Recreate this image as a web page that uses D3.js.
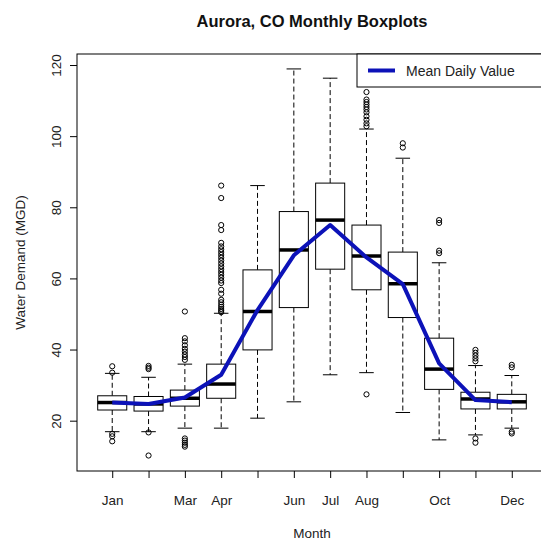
<!DOCTYPE html>
<html>
<head>
<meta charset="utf-8">
<script src="https://cdn.jsdelivr.net/npm/d3@7"></script>
<style>
  html, body { margin: 0; padding: 0; background: #fff; }
  svg { display: block; font-family: "Liberation Sans", Arial, sans-serif; }
</style>
</head>
<body>
<svg id="chart" width="541" height="541"></svg>
<script>
// Monthly daily water demand (MGD), Aurora CO
const months = ["Jan","Feb","Mar","Apr","May","Jun","Jul","Aug","Sep","Oct","Nov","Dec"];
const monthLabels = ["Jan","","Mar","Apr","","Jun","Jul","Aug","","Oct","","Dec"];
const q1        = [23.0, 22.7, 24.1, 26.3, 39.9, 51.8, 62.6, 56.8, 49.0, 28.8, 23.3, 23.3];
const medians   = [25.1, 24.7, 26.3, 30.3, 50.7, 68.0, 76.4, 66.3, 58.5, 34.5, 26.1, 25.3];
const q3        = [27.0, 26.8, 28.6, 35.9, 62.4, 78.8, 86.8, 75.0, 67.4, 43.2, 28.0, 27.4];
const whiskLow  = [16.9, 16.9, 17.9, 17.9, 20.7, 25.3, 32.9, 33.5, 22.3, 14.6, 16.0, 17.9];
const whiskHigh = [33.3, 32.2, 35.9, 50.2, 86.1, 118.9, 116.3, 102.0, 93.8, 64.4, 35.5, 32.7];
const means     = [25.1, 24.7, 26.5, 32.9, 51.1, 66.5, 75.0, 65.9, 58.4, 36.1, 25.8, 25.2];
const outliers = [
  [35.3, 33.5, 16.3, 15.6, 14.2],
  [35.4, 34.9, 34.5, 16.7, 10.2],
  [50.7, 43.2, 42.3, 41.2, 40.2, 39.4, 38.6, 37.9, 37.1, 15.0, 14.4, 13.8, 13.2, 12.7],
  [86.1, 82.6, 75.0, 73.6, 70.0, 69.0, 68.2, 67.4, 66.6, 65.8, 65.0, 64.2, 63.4, 62.6,
   61.8, 61.0, 60.2, 59.4, 58.7, 56.8, 55.7, 54.0, 53.3, 52.6, 52.0, 51.4, 50.9, 50.5],
  [],
  [],
  [],
  [112.4, 110.3, 109.6, 108.9, 108.2, 107.5, 106.7, 105.6, 104.6, 103.6, 102.8, 27.4],
  [98.0, 96.8],
  [76.4, 75.6, 67.8, 67.1],
  [39.9, 39.1, 38.3, 37.5, 36.7, 15.0, 13.8],
  [35.7, 35.0, 16.9, 16.4]
];
const yTicks = [20, 40, 60, 80, 100, 120];

const svg = d3.select("#chart");
const plot = { left: 77, right: 547, top: 54, bottom: 471 };
const font = "Liberation Sans, Arial, sans-serif";

const x = d3.scaleLinear().domain([0.03, 12.97]).range([plot.left, plot.right]);
const y = d3.scaleLinear().domain([5.85, 123.1]).range([plot.bottom, plot.top]);

const boxW = x(1.4) - x(0.6);
const stapleW = boxW / 2;

// Title
svg.append("text")
  .attr("x", x(6.5)).attr("y", 27)
  .attr("text-anchor", "middle")
  .attr("font-weight", "bold").attr("font-size", 16.5)
  .attr("fill", "#111")
  .text("Aurora, CO Monthly Boxplots");

// Axes
const yAxis = d3.axisLeft(y).tickValues(yTicks).tickSize(7).tickPadding(0).tickFormat(d3.format("d"));
const gy = svg.append("g").attr("transform", `translate(${plot.left},0)`).call(yAxis);
gy.select(".domain").remove();
gy.selectAll(".tick line").attr("stroke", "#000");
gy.selectAll(".tick text")
  .attr("transform", "translate(-16,0) rotate(-90)")
  .attr("x", 0).attr("dy", 0).attr("dx", 0)
  .attr("text-anchor", "middle")
  .attr("font-size", 13.5).attr("font-family", font).attr("fill", "#222");

const xAxis = d3.axisBottom(x).tickValues(d3.range(1, 13)).tickSize(7).tickPadding(0)
  .tickFormat((d, i) => monthLabels[i]);
const gx = svg.append("g").attr("transform", `translate(0,${plot.bottom})`).call(xAxis);
gx.select(".domain").remove();
gx.selectAll(".tick line").attr("stroke", "#000");
gx.selectAll(".tick text")
  .attr("y", 34).attr("dy", 0)
  .attr("font-size", 13.5).attr("font-family", font).attr("fill", "#222");

// Axis titles
svg.append("text")
  .attr("x", x(6.5)).attr("y", 538)
  .attr("text-anchor", "middle").attr("font-size", 13.5).attr("fill", "#222")
  .text("Month");
svg.append("text")
  .attr("transform", `translate(25,${(plot.top + plot.bottom) / 2}) rotate(-90)`)
  .attr("text-anchor", "middle").attr("font-size", 13.5).attr("fill", "#222")
  .text("Water Demand (MGD)");

// Boxplots
const data = months.map((m, i) => ({
  i: i + 1, q1: q1[i], med: medians[i], q3: q3[i],
  lo: whiskLow[i], hi: whiskHigh[i], out: outliers[i]
}));

const g = svg.append("g");
const box = g.selectAll("g.box").data(data).join("g").attr("class", "box");

// whiskers (dashed)
box.append("line")
  .attr("x1", d => x(d.i)).attr("x2", d => x(d.i))
  .attr("y1", d => y(d.q3)).attr("y2", d => y(d.hi))
  .attr("stroke", "#000").attr("stroke-dasharray", "5,3");
box.append("line")
  .attr("x1", d => x(d.i)).attr("x2", d => x(d.i))
  .attr("y1", d => y(d.q1)).attr("y2", d => y(d.lo))
  .attr("stroke", "#000").attr("stroke-dasharray", "5,3");
// staples
box.append("line")
  .attr("x1", d => x(d.i) - stapleW / 2).attr("x2", d => x(d.i) + stapleW / 2)
  .attr("y1", d => y(d.hi)).attr("y2", d => y(d.hi))
  .attr("stroke", "#000");
box.append("line")
  .attr("x1", d => x(d.i) - stapleW / 2).attr("x2", d => x(d.i) + stapleW / 2)
  .attr("y1", d => y(d.lo)).attr("y2", d => y(d.lo))
  .attr("stroke", "#000");
// box
box.append("rect")
  .attr("x", d => x(d.i) - boxW / 2).attr("width", boxW)
  .attr("y", d => y(d.q3)).attr("height", d => y(d.q1) - y(d.q3))
  .attr("fill", "#fff").attr("stroke", "#000");
// median
box.append("line")
  .attr("x1", d => x(d.i) - boxW / 2).attr("x2", d => x(d.i) + boxW / 2)
  .attr("y1", d => y(d.med)).attr("y2", d => y(d.med))
  .attr("stroke", "#000").attr("stroke-width", 3.5);
// outliers
box.selectAll("circle")
  .data(d => d.out.map(v => ({ i: d.i, v })))
  .join("circle")
  .attr("cx", d => x(d.i)).attr("cy", d => y(d.v)).attr("r", 2.6)
  .attr("fill", "none").attr("stroke", "#000").attr("stroke-width", 1);

// Mean daily value line
const meanColor = "#0c12b8";
const line = d3.line().x((d, i) => x(i + 1)).y(d => y(d));
svg.append("path")
  .datum(means)
  .attr("d", line)
  .attr("fill", "none").attr("stroke", meanColor)
  .attr("stroke-width", 4).attr("stroke-linejoin", "round");

// Plot frame
svg.append("rect")
  .attr("x", plot.left).attr("y", plot.top)
  .attr("width", plot.right - plot.left).attr("height", plot.bottom - plot.top)
  .attr("fill", "none").attr("stroke", "#000");

// Legend
const lg = svg.append("g");
lg.append("rect")
  .attr("x", 357).attr("y", plot.top)
  .attr("width", plot.right - 357).attr("height", 33)
  .attr("fill", "#fff").attr("stroke", "#000");
lg.append("line")
  .attr("x1", 368).attr("x2", 395).attr("y1", 70.5).attr("y2", 70.5)
  .attr("stroke", meanColor).attr("stroke-width", 4);
lg.append("text")
  .attr("x", 406).attr("y", 75.5)
  .attr("font-size", 14).attr("fill", "#222")
  .text("Mean Daily Value");
</script>
</body>
</html>
